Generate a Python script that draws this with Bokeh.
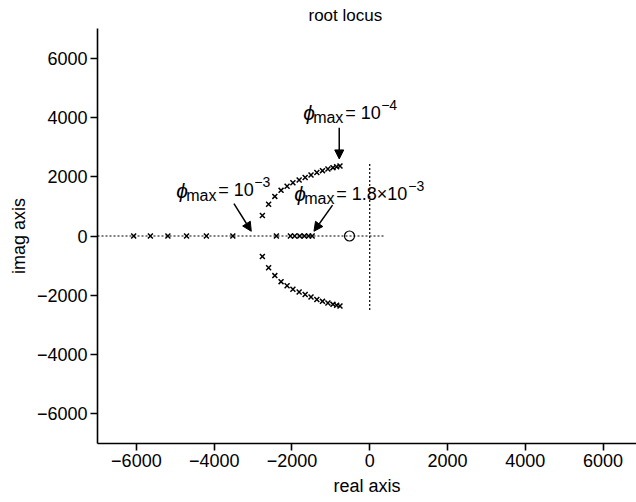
from bokeh.plotting import figure
from bokeh.models import Arrow, NormalHead, Label, FixedTicker, ColumnDataSource
from bokeh.embed import file_html
from bokeh.resources import INLINE

# --- data -------------------------------------------------------------------
# closed-loop poles lying on the real axis
real_poles = [-6070, -5640, -5190, -4710, -4200, -3520, -2400,
              -2040, -1930, -1800, -1680, -1570, -1480]

# complex-conjugate branch (upper half; the lower half mirrors it)
branch_real = [-2760, -2600, -2440, -2280, -2125, -1975, -1815, -1660,
               -1510, -1360, -1215, -1075, -945, -850, -765]
branch_imag = [690, 1070, 1335, 1540, 1680, 1795, 1890, 1975,
               2060, 2140, 2205, 2260, 2305, 2335, 2360]

# open-loop zero
zero_real = [-520]
zero_imag = [0]

# dotted reference axes
real_axis_x = [-7000, 380]
imag_axis_y = [-2500, 2500]

x_ticks = [-6000, -4000, -2000, 0, 2000, 4000, 6000]
y_ticks = [-6000, -4000, -2000, 0, 2000, 4000, 6000]
x_tick_labels = ["\u22126000", "\u22124000", "\u22122000", "0", "2000", "4000", "6000"]
y_tick_labels = ["\u22126000", "\u22124000", "\u22122000", "0", "2000", "4000", "6000"]

FONT = "Liberation Sans"

# --- figure -----------------------------------------------------------------
p = figure(width=636, height=502, x_range=(-7000, 6860), y_range=(-7000, 7000),
           output_backend="svg", toolbar_location=None,
           min_border_left=97, min_border_right=0,
           min_border_top=27, min_border_bottom=59)
p.outline_line_color = None
p.grid.visible = False
p.background_fill_color = "white"
p.border_fill_color = "white"

p.title.text = "root locus"
p.title.text_font = FONT
p.title.text_font_size = "17px"
p.title.text_font_style = "normal"
p.title.text_color = "black"
p.title.align = "left"
p.title.offset = 211
p.title.standoff = 7

for ax, ticks, labels, name in ((p.xaxis[0], x_ticks, x_tick_labels, "real axis"),
                                (p.yaxis[0], y_ticks, y_tick_labels, "imag axis")):
    ax.ticker = FixedTicker(ticks=ticks)
    ax.major_label_overrides = {t: l for t, l in zip(ticks, labels)}
    ax.axis_label = name
    ax.axis_label_text_font = FONT
    ax.axis_label_text_font_size = "18px"
    ax.axis_label_text_font_style = "normal"
    ax.major_label_text_font = FONT
    ax.major_label_text_font_size = "18px"
    ax.major_label_standoff = 3
    ax.axis_line_width = 1.6
    ax.major_tick_line_width = 1.6
    ax.major_tick_out = 7
    ax.major_tick_in = 0
    ax.minor_tick_line_color = None
    ax.axis_line_color = "black"
    ax.major_tick_line_color = "black"
    ax.major_label_text_color = "black"
    ax.axis_label_text_color = "black"
p.xaxis[0].axis_label_standoff = 6
p.yaxis[0].axis_label_standoff = 5

# reference axes through the origin
p.line(real_axis_x, [0, 0], line_color="black", line_width=1.2, line_dash="2 2")
p.line([0, 0], imag_axis_y, line_color="black", line_width=1.2, line_dash="2 2")

# poles
p.scatter(real_poles, [0] * len(real_poles), marker="x", size=7,
          line_color="black", line_width=1.5)
src = ColumnDataSource(dict(
    x=branch_real + branch_real,
    y=branch_imag + [-v for v in branch_imag],
))
p.scatter("x", "y", source=src, marker="x", size=7, line_color="black", line_width=1.5)

# zero
p.scatter(zero_real, zero_imag, marker="circle", size=10, fill_color=None,
          line_color="black", line_width=1.2)


# --- annotations ------------------------------------------------------------
def phi_label(x, y, value, sup):
    """Draw 'phi_max = value^sup' as pieces anchored at (x, y)."""
    pieces = [
        (0, 0, "\u03d5", "21px", "italic"),
        (10, -5, "max", "16px", "normal"),
        (42, 0, value, "18px", "normal"),
    ]
    for dx, dy, txt, size, style in pieces:
        p.add_layout(Label(x=x, y=y, x_offset=dx, y_offset=dy, text=txt,
                           text_font=FONT, text_font_size=size,
                           text_font_style=style, text_baseline="alphabetic",
                           text_align="left", text_color="black"))
    w = {"= 10": 35, "= 1.8\u00d710": 71}[value]
    p.add_layout(Label(x=x, y=y, x_offset=42 + w + 1, y_offset=8, text=sup,
                       text_font=FONT, text_font_size="14px",
                       text_baseline="alphabetic", text_align="left",
                       text_color="black"))


phi_label(-1712, 4150, "= 10", "\u22124")
phi_label(-4974, 1550, "= 10", "\u22123")
phi_label(-1941, 1420, "= 1.8\u00d710", "\u22123")

head = dict(size=9, fill_color="black", line_color="black")
p.add_layout(Arrow(end=NormalHead(**head), x_start=-784, y_start=3650,
                   x_end=-784, y_end=2600, line_width=1.5))
p.add_layout(Arrow(end=NormalHead(**head), x_start=-3491, y_start=1090,
                   x_end=-3046, y_end=160, line_width=1.5))
p.add_layout(Arrow(end=NormalHead(**head), x_start=-956, y_start=1040,
                   x_end=-1434, y_end=160, line_width=1.5))

open("out.html", "w").write(file_html(p, INLINE))
